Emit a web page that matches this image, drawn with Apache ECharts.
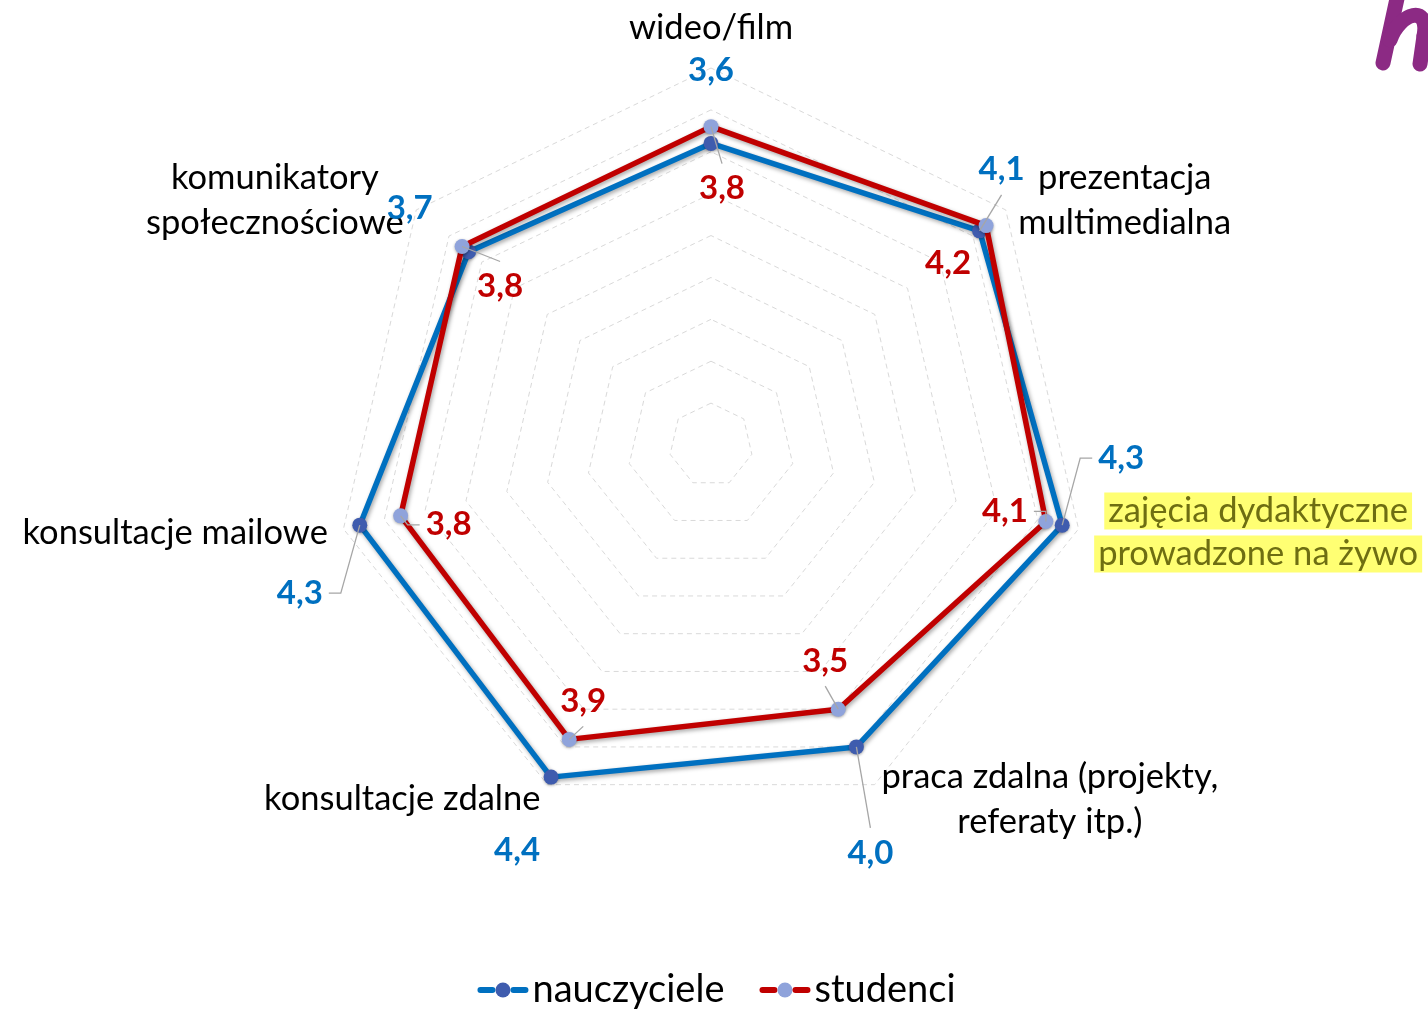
<!DOCTYPE html>
<html>
<head>
<meta charset="utf-8">
<script src="https://cdn.jsdelivr.net/npm/echarts@6/dist/echarts.min.js"></script>
<style>
html,body{margin:0;padding:0;background:#fff;}
#c1{width:1428px;height:1010px;}
</style>
</head>
<body>
<div id="c1"></div>
<script>
// kategorie w kolejnosci zgodnej z ruchem wskazowek zegara, od gory
const categories = [
    'wideo/film',
    'prezentacja\nmultimedialna',
    'zajęcia dydaktyczne\nprowadzone na żywo',
    'praca zdalna (projekty,\nreferaty itp.)',
    'konsultacje zdalne',
    'konsultacje mailowe',
    'komunikatory\nspołecznościowe'
]
const nauczyciele = [3.6, 4.1, 4.3, 4.0, 4.4, 4.3, 3.7]
const studenci = [3.8, 4.2, 4.1, 3.5, 3.9, 3.8, 3.8]
const seriesNames = ['nauczyciele', 'studenci']
const axisMin = 0
const axisMax = 4.5

// przesuniecia etykiet wzgledem punktu (styl, nie dane)
const labelOffsets = [
    [[0, -73], [22, -61], [59, -67], [14, 106], [-34, 73], [-60, 68], [-59, -43]],
    [[11, 62], [-38, 38], [-41, -10], [-13, -48], [14, -38], [48, 9], [38, 40]]
]
// linie odniesienia: t = do gory etykiety, b = do dolu, l = z lewej, r = z prawej
const leaderKinds = [
    [null, 'b', 'l', 't', null, 'r', null],
    ['t', null, 'r', 'b', 'b', 'l', 't']
]

const center = [711, 445]
const n = categories.length
// echarts rysuje wskazniki przeciwnie do ruchu wskazowek zegara
const order = categories.map((_, i) => (n - i) % n)
const ccw = arr => order.map(i => arr[i])
const fmt = v => v.toFixed(1).replace('.', ',')
const font = 'Lato'
const nameSize = 34.5
const labelSize = 33

const leaders = {}
function makeLayout(si) {
    return function (p) {
        const mx = p.rect.x + p.rect.width / 2
        const my = p.rect.y + p.rect.height / 2
        const a = Math.atan2(mx - center[0], center[1] - my)
        let k = Math.round(a / (2 * Math.PI / n))
        k = ((k % n) + n) % n
        const off = labelOffsets[si][k]
        const lx = mx + off[0], ly = my + off[1]
        leaders[si + '_' + k] = { mx, my, lx, ly, w: p.labelRect.width, kind: leaderKinds[si][k] }
        return { x: lx, y: ly, align: 'center', verticalAlign: 'middle' }
    }
}

let chart = echarts.init(document.getElementById('c1'))
let option = {
    backgroundColor: '#fff',
    animation: false,
    radar: {
        center: center,
        radius: 377,
        startAngle: 90,
        splitNumber: 9,
        shape: 'polygon',
        nameGap: 16,
        indicator: ccw(categories).map(name => ({ name: name, min: axisMin, max: axisMax })),
        axisName: {
            color: '#000',
            fontSize: nameSize,
            fontFamily: font,
            formatter: function (name) {
                let st = 'n'
                if (name === categories[0]) st = 'top'
                if (name === categories[2]) st = 'hl'
                return name.split('\n').map(l => '{' + st + '|' + l + '}').join('\n')
            },
            rich: {
                n: { fontSize: nameSize, fontFamily: font, color: '#000', align: 'center', lineHeight: 45 },
                top: { fontSize: nameSize, fontFamily: font, color: '#000', align: 'center', lineHeight: 40, padding: [0, 0, 8, 0] },
                hl: {
                    fontSize: nameSize, fontFamily: font, color: '#6e6e12', align: 'center', lineHeight: 43,
                    backgroundColor: '#ffff73', padding: [1, 4, 1, 4]
                }
            }
        },
        axisLine: { show: false },
        axisTick: { show: false },
        axisLabel: { show: false },
        splitArea: { show: false },
        splitLine: { lineStyle: { color: '#d9d9d9', width: 1, type: [5, 4] } }
    },
    legend: {
        top: 966,
        left: 'center',
        icon: 'none',
        itemWidth: 0,
        itemHeight: 0,
        itemGap: 30,
        data: seriesNames,
        formatter: function (name) {
            if (name === seriesNames[0]) return '{bl|}{bm|}{bl|}{t|' + name + '}'
            return '{rl|}{rm|}{rl|}{t|' + name + '}'
        },
        textStyle: {
            fontSize: 38,
            fontFamily: font,
            color: '#000',
            rich: {
                bl: { width: 18, height: 6, backgroundColor: '#0070C0', borderRadius: 3 },
                bm: { width: 15, height: 15, backgroundColor: '#3F5CAE', borderRadius: 7.5 },
                rl: { width: 18, height: 6, backgroundColor: '#C00000', borderRadius: 3 },
                rm: { width: 15, height: 15, backgroundColor: '#8FA3DB', borderRadius: 7.5 },
                t: { fontSize: 38, fontFamily: font, color: '#000', padding: [0, 0, 0, 4] }
            }
        }
    },
    series: [
        {
            type: 'radar',
            name: seriesNames[0],
            symbol: 'circle',
            symbolSize: 15,
            z: 2,
            lineStyle: {
                color: '#0070C0', width: 5.5,
                shadowColor: 'rgba(0,0,0,0.35)', shadowBlur: 4, shadowOffsetX: 1.5, shadowOffsetY: 2
            },
            itemStyle: { color: '#3F5CAE', shadowColor: 'rgba(0,0,0,0.3)', shadowBlur: 3, shadowOffsetY: 1 },
            label: {
                show: true, fontSize: labelSize, fontWeight: 'bold', fontFamily: font, color: '#0070C0',
                formatter: p => fmt(p.value)
            },
            labelLayout: makeLayout(0),
            data: [{ value: ccw(nauczyciele), name: seriesNames[0] }]
        },
        {
            type: 'radar',
            name: seriesNames[1],
            symbol: 'circle',
            symbolSize: 15,
            z: 3,
            lineStyle: {
                color: '#C00000', width: 5.5,
                shadowColor: 'rgba(0,0,0,0.35)', shadowBlur: 4, shadowOffsetX: 1.5, shadowOffsetY: 2
            },
            itemStyle: { color: '#8FA3DB', shadowColor: 'rgba(0,0,0,0.3)', shadowBlur: 3, shadowOffsetY: 1 },
            label: {
                show: true, fontSize: labelSize, fontWeight: 'bold', fontFamily: font, color: '#C00000',
                formatter: p => fmt(p.value)
            },
            labelLayout: makeLayout(1),
            data: [{ value: ccw(studenci), name: seriesNames[1] }]
        }
    ]
}
chart.setOption(option)

// linie odniesienia z polozen policzonych przez echarts
let elems = []
Object.keys(leaders).forEach(function (key) {
    const d = leaders[key]
    if (!d.kind) return
    const hw = d.w / 2 + 6
    let pts
    if (d.kind === 't') pts = [[d.mx, d.my], [d.lx, d.ly - 25]]
    else if (d.kind === 'b') pts = [[d.mx, d.my], [d.lx, d.ly + 25]]
    else if (d.kind === 'l') pts = [[d.mx, d.my], [d.lx - hw - 12, d.ly], [d.lx - hw, d.ly]]
    else pts = [[d.mx, d.my], [d.lx + hw + 12, d.ly], [d.lx + hw, d.ly]]
    elems.push({
        type: 'polyline', silent: true, z: 20,
        shape: { points: pts },
        style: { stroke: '#a6a6a6', lineWidth: 1.3, fill: null }
    })
})
// fragment logo w prawym gornym rogu
const logoStyle = { stroke: '#8C2A84', lineWidth: 15, lineCap: 'round', lineJoin: 'round', fill: null }
elems.push({ type: 'line', silent: true, shape: { x1: 1383, y1: 63, x2: 1398, y2: -6 }, style: logoStyle })
elems.push({
    type: 'bezierCurve', silent: true,
    shape: { x1: 1390, y1: 40, cpx1: 1400, cpy1: 12, cpx2: 1430, cpy2: 4, x2: 1424, y2: 36 },
    style: logoStyle
})
elems.push({ type: 'line', silent: true, shape: { x1: 1424, y1: 36, x2: 1420, y2: 64 }, style: logoStyle })
chart.setOption({ graphic: { elements: elems } })
</script>
</body>
</html>
